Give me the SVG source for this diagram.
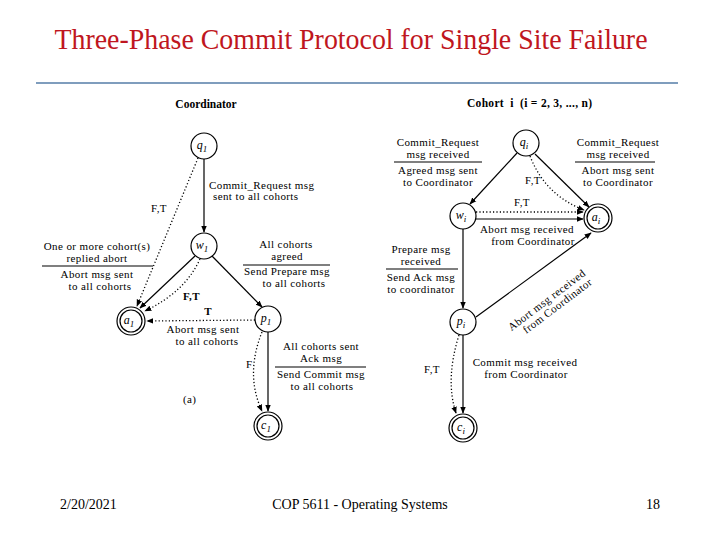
<svg xmlns="http://www.w3.org/2000/svg" width="720" height="540" viewBox="0 0 720 540">
<defs>
<marker id="ah" viewBox="0 0 10 10" refX="9" refY="5" markerWidth="7" markerHeight="7" orient="auto" markerUnits="userSpaceOnUse"><path d="M0,1 L10,5 L0,9 z" fill="#000"/></marker>
</defs>
<style>
.t{font-family:"Liberation Serif","Times New Roman",serif;font-size:11px;letter-spacing:0.4px;fill:#000}
.m{text-anchor:middle}
.b{font-weight:bold}
.h{font-size:11.5px;letter-spacing:0}
.n{font-family:"Liberation Serif","Times New Roman",serif;font-style:italic;font-size:12px;text-anchor:middle}
.c{fill:#fff;stroke:#000;stroke-width:1.2}
.e{fill:none;stroke:#000;stroke-width:1.2;marker-end:url(#ah)}
.d{fill:none;stroke:#000;stroke-width:1.3;stroke-dasharray:1.2 2.2;marker-end:url(#ah)}
.bar{stroke:#000;stroke-width:1.2}
.ft{font-family:"Liberation Serif","Times New Roman",serif;font-size:14px;fill:#000}
</style>
<rect width="720" height="540" fill="#fff"/>
<text x="351" y="49" text-anchor="middle" font-family="Liberation Serif, Times New Roman, serif" font-size="30" fill="#bf1620" textLength="593" lengthAdjust="spacingAndGlyphs">Three-Phase Commit Protocol for Single Site Failure</text>
<line x1="36" y1="83" x2="678" y2="83" stroke="#7f9dbd" stroke-width="2"/>

<g id="connectors">
<line class="e" x1="204" y1="159" x2="204" y2="232" stroke-width="2"/>
<line class="d" x1="198" y1="158" x2="137" y2="306"/>
<line class="e" x1="195" y1="256" x2="140" y2="308"/>
<path class="d" d="M200,259 Q185,292 145,311"/>
<line class="e" x1="212" y1="256" x2="262" y2="307"/>
<line class="d" x1="255" y1="320" x2="147" y2="321"/>
<line class="e" x1="268" y1="332" x2="268" y2="411"/>
<path class="d" d="M262,332 Q245,375 262,411"/>

<line class="e" x1="517" y1="153" x2="470" y2="204"/>
<line class="e" x1="535" y1="154" x2="589" y2="207"/>
<path class="d" d="M530,156 Q545,195 584,210"/>
<line class="d" x1="476" y1="212" x2="583" y2="212"/>
<line class="e" x1="476" y1="219" x2="583" y2="219"/>
<line class="e" x1="463" y1="229" x2="463" y2="308"/>
<line class="e" x1="476" y1="317" x2="591" y2="233"/>
<line class="e" x1="463" y1="335" x2="463" y2="413"/>
<path class="d" d="M459,335 Q445,380 456,413"/>
</g>

<g id="q1"><circle class="c" cx="204" cy="146" r="13"/><text class="n" x="202" y="149">q<tspan font-size="9" dy="3">1</tspan></text></g>
<g id="w1"><circle class="c" cx="204" cy="246" r="13"/><text class="n" x="202" y="249">w<tspan font-size="9" dy="3">1</tspan></text></g>
<g id="a1"><circle class="c" cx="131" cy="321" r="14"/><circle class="c" cx="131" cy="321" r="11"/><text class="n" x="129" y="324">a<tspan font-size="9" dy="3">1</tspan></text></g>
<g id="p1"><circle class="c" cx="268" cy="319" r="13"/><text class="n" x="266" y="322">p<tspan font-size="9" dy="3">1</tspan></text></g>
<g id="c1"><circle class="c" cx="268" cy="426" r="14"/><circle class="c" cx="268" cy="426" r="11"/><text class="n" x="266" y="429">c<tspan font-size="9" dy="3">1</tspan></text></g>

<g id="qi"><circle class="c" cx="526" cy="143" r="13"/><text class="n" x="524" y="146">q<tspan font-size="9" dy="3">i</tspan></text></g>
<g id="wi"><circle class="c" cx="463" cy="216" r="13"/><text class="n" x="461" y="219">w<tspan font-size="9" dy="3">i</tspan></text></g>
<g id="ai"><circle class="c" cx="598" cy="218" r="14"/><circle class="c" cx="598" cy="218" r="11"/><text class="n" x="596" y="221">a<tspan font-size="9" dy="3">i</tspan></text></g>
<g id="pi"><circle class="c" cx="463" cy="322" r="13"/><text class="n" x="461" y="325">p<tspan font-size="9" dy="3">i</tspan></text></g>
<g id="ci"><circle class="c" cx="463" cy="428" r="14"/><circle class="c" cx="463" cy="428" r="11"/><text class="n" x="461" y="431">c<tspan font-size="9" dy="3">i</tspan></text></g>

<g id="labels">
<text class="t b m h" x="206" y="108">Coordinator</text>
<text class="t b h" x="467" y="107" textLength="125" lengthAdjust="spacing" xml:space="preserve">Cohort  i  (i = 2, 3, ..., n)</text>

<text class="t" x="209" y="189">Commit_Request msg</text>
<text class="t" x="213" y="200">sent to all cohorts</text>
<text class="t" x="151" y="212">F,T</text>

<text class="t m" x="97" y="250">One or more cohort(s)</text>
<text class="t m" x="97" y="262">replied abort</text>
<line class="bar" x1="42" y1="266" x2="153" y2="266"/>
<text class="t m" x="97" y="278">Abort msg sent</text>
<text class="t m" x="100" y="290">to all cohorts</text>

<text class="t m" x="286" y="248">All cohorts</text>
<text class="t m" x="287" y="260">agreed</text>
<line class="bar" x1="243" y1="265" x2="330" y2="265"/>
<text class="t m" x="287" y="275">Send Prepare msg</text>
<text class="t m" x="294" y="287">to all cohorts</text>

<text class="t b" x="183" y="300">F,T</text>
<text class="t b m" x="208" y="315">T</text>
<text class="t m" x="203" y="333">Abort msg sent</text>
<text class="t m" x="207" y="345">to all cohorts</text>
<text class="t" x="246" y="368">F</text>

<text class="t m" x="321" y="350">All cohorts sent</text>
<text class="t m" x="321" y="362">Ack msg</text>
<line class="bar" x1="275" y1="367" x2="366" y2="367"/>
<text class="t m" x="321" y="378">Send Commit msg</text>
<text class="t m" x="322" y="390">to all cohorts</text>
<text class="t" x="183" y="403">(a)</text>

<text class="t m" x="438" y="146">Commit_Request</text>
<text class="t m" x="438" y="158">msg received</text>
<line class="bar" x1="394" y1="162" x2="482" y2="162"/>
<text class="t m" x="438" y="174">Agreed msg sent</text>
<text class="t m" x="438" y="186">to Coordinator</text>

<text class="t m" x="618" y="146">Commit_Request</text>
<text class="t m" x="618" y="158">msg received</text>
<line class="bar" x1="575" y1="162" x2="655" y2="162"/>
<text class="t m" x="618" y="174">Abort msg sent</text>
<text class="t m" x="618" y="186">to Coordinator</text>

<text class="t m" x="533" y="184">F,T</text>
<text class="t m" x="522" y="206">F,T</text>
<text class="t m" x="527" y="233">Abort msg received</text>
<text class="t m" x="533" y="245">from Coordinator</text>

<text class="t m" x="421" y="253">Prepare msg</text>
<text class="t m" x="421" y="265">received</text>
<line class="bar" x1="386" y1="269" x2="458" y2="269"/>
<text class="t m" x="421" y="281">Send Ack msg</text>
<text class="t m" x="421" y="293">to coordinator</text>

<g transform="translate(549,303) rotate(-37)">
<text class="t m" x="0" y="0" font-size="10.5">Abort msg received</text>
<text class="t m" x="5" y="11" font-size="10.5">from Coordinator</text>
</g>

<text class="t" x="424" y="373">F,T</text>
<text class="t m" x="525" y="366">Commit msg received</text>
<text class="t m" x="526" y="378">from Coordinator</text>
</g>

<text class="ft" x="60" y="509">2/20/2021</text>
<text class="ft" x="360" y="509" text-anchor="middle">COP 5611 - Operating Systems</text>
<text class="ft" x="646" y="509">18</text>
</svg>
